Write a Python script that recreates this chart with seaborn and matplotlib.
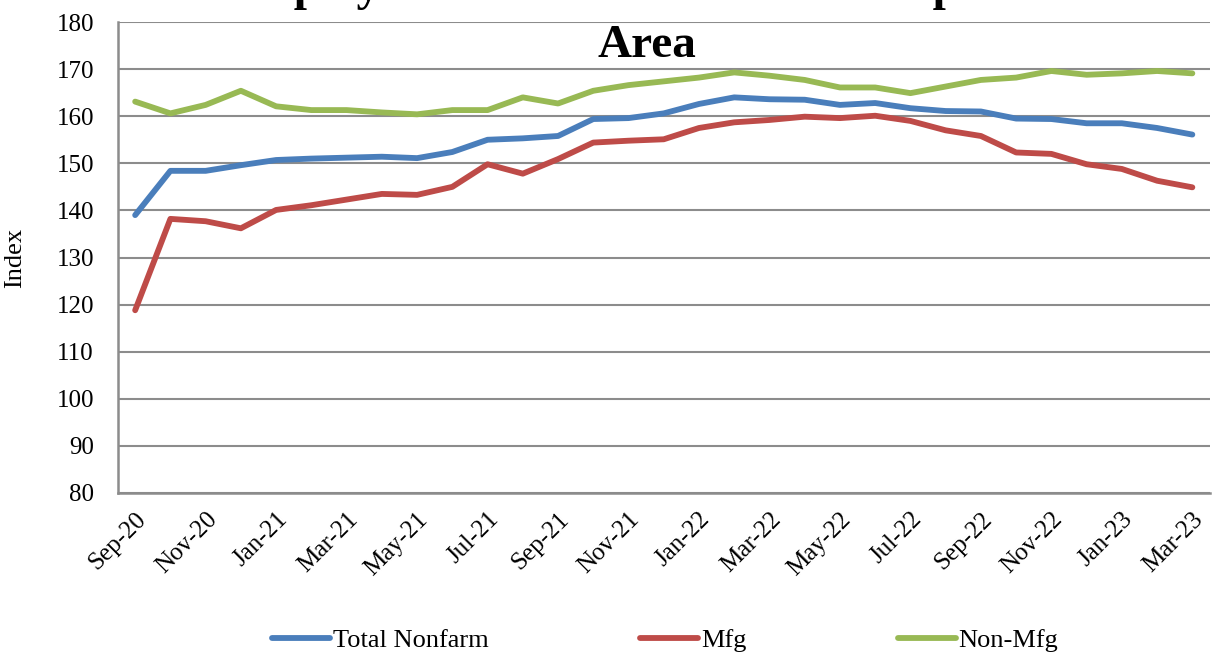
import numpy as np
import pandas as pd
import matplotlib
matplotlib.use("Agg")
import matplotlib.pyplot as plt
import seaborn as sns

months = ["Sep-20", "Oct-20", "Nov-20", "Dec-20", "Jan-21", "Feb-21", "Mar-21", "Apr-21",
          "May-21", "Jun-21", "Jul-21", "Aug-21", "Sep-21", "Oct-21", "Nov-21", "Dec-21",
          "Jan-22", "Feb-22", "Mar-22", "Apr-22", "May-22", "Jun-22", "Jul-22", "Aug-22",
          "Sep-22", "Oct-22", "Nov-22", "Dec-22", "Jan-23", "Feb-23", "Mar-23"]

total_nonfarm = [139.0, 148.4, 148.4, 149.6, 150.7, 151.0, 151.2, 151.4, 151.1, 152.4, 155.0,
                 155.3, 155.8, 159.4, 159.6, 160.6, 162.6, 164.0, 163.6, 163.5, 162.4, 162.8,
                 161.7, 161.1, 161.0, 159.5, 159.4, 158.5, 158.5, 157.5, 156.1]
mfg = [118.8, 138.2, 137.7, 136.2, 140.1, 141.1, 142.3, 143.5, 143.3, 145.0, 149.8,
       147.8, 150.9, 154.4, 154.8, 155.1, 157.5, 158.7, 159.2, 159.9, 159.6, 160.1,
       159.0, 157.0, 155.8, 152.3, 152.0, 149.8, 148.8, 146.3, 144.9]
non_mfg = [163.1, 160.6, 162.4, 165.4, 162.1, 161.3, 161.3, 160.8, 160.4, 161.3, 161.3,
           164.0, 162.7, 165.4, 166.6, 167.4, 168.2, 169.3, 168.6, 167.7, 166.1, 166.1,
           164.9, 166.3, 167.7, 168.2, 169.6, 168.8, 169.1, 169.6, 169.1]

series_names = ["Total Nonfarm", "Mfg", "Non-Mfg"]
colors = ["#4A7EBB", "#BE4B48", "#98B954"]
y_ticks = list(range(80, 181, 10))
title_line1 = "Employment Index: Greater Metropolitan"
title_line2 = "Area"

df = pd.DataFrame({
    "idx": list(range(len(months))) * 3,
    "value": total_nonfarm + mfg + non_mfg,
    "series": sum([[n] * len(months) for n in series_names], []),
})

sns.set_style("white")
plt.rcParams["font.family"] = ["Liberation Serif", "DejaVu Serif"]
plt.rcParams["text.color"] = "black"
plt.rcParams["axes.labelcolor"] = "black"
plt.rcParams["xtick.labelcolor"] = "black"
plt.rcParams["ytick.labelcolor"] = "black"

fig = plt.figure(figsize=(12.13, 6.59), dpi=100)
ax = fig.add_axes([0.0969, 0.2519, 0.9006, 0.7147])

sns.lineplot(data=df, x="idx", y="value", hue="series", hue_order=series_names,
             palette=colors, linewidth=4.2, sort=False, ax=ax, legend=True,
             solid_capstyle="round", solid_joinstyle="round")

grey = "#8C8C8C"
ax.set_xlim(-0.5, len(months) - 0.5)
ax.set_ylim(80, 180)
ax.set_yticks(y_ticks)
ax.set_yticklabels([str(v) for v in y_ticks], fontsize=18, color="black")
ax.set_yticks(np.arange(85, 180, 10), minor=True)
ax.yaxis.grid(True, which="major", color=grey, linewidth=1.5)
ax.set_axisbelow(True)

ax.set_xticks(list(range(0, len(months), 2)))
ax.set_xticklabels(months[::2], rotation=45, ha="right", va="top",
                   rotation_mode="anchor", fontsize=18, color="black")
ax.set_xticks(np.arange(-0.5, len(months), 1.0), minor=True)
ax.tick_params(axis="x", which="major", length=0, pad=11)
ax.tick_params(axis="x", which="minor", length=4.5, color=grey, width=1.5, direction="out")
ax.tick_params(axis="y", which="major", length=6, color=grey, width=1.5, direction="out", pad=11)
ax.tick_params(axis="y", which="minor", length=3.6, color=grey, width=1.5, direction="out")

for s in ["top", "right"]:
    ax.spines[s].set_visible(False)
for s in ["left", "bottom"]:
    ax.spines[s].set_color(grey)
    ax.spines[s].set_linewidth(1.8)

ax.set_xlabel("")
ax.set_ylabel("Index", fontsize=19, labelpad=22, color="black")

handles, labels = ax.get_legend_handles_labels()
leg = ax.legend(handles, labels, loc="center left", bbox_to_anchor=(272 / 1213, 1 - 640 / 659),
                bbox_transform=fig.transFigure, ncol=3, frameon=False, fontsize=19,
                handlelength=2.2, handletextpad=0.1, columnspacing=5.75,
                borderpad=0, borderaxespad=0)
for t in leg.get_texts():
    t.set_color("black")

fig.text(0.535, 1.0, title_line1, ha="center", va="baseline", fontsize=34,
         fontweight="bold", color="black")
fig.text(0.533, 1 - 57 / 659, title_line2, ha="center", va="baseline", fontsize=34,
         fontweight="bold", color="black")

fig.savefig("out.png", dpi=100)
